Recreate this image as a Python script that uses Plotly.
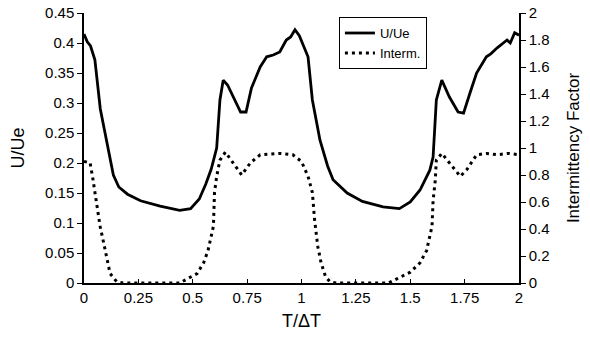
import plotly.graph_objects as go

# U/Ue (left axis)
t_u = [0.00, 0.015, 0.03, 0.05, 0.075, 0.105, 0.135, 0.16, 0.20, 0.26, 0.35, 0.44, 0.49, 0.53, 0.56,
       0.585, 0.61, 0.625, 0.64, 0.66, 0.685, 0.72, 0.745, 0.77, 0.81, 0.84, 0.87, 0.90, 0.93,
       0.95, 0.97, 0.99, 1.03, 1.05, 1.085, 1.12, 1.145, 1.21, 1.28, 1.375, 1.45, 1.50, 1.545, 1.59,
       1.605, 1.62, 1.645, 1.68, 1.72, 1.745, 1.775, 1.805, 1.85, 1.87, 1.90, 1.945, 1.96, 1.98, 2.00]
u_ue = [0.415, 0.402, 0.395, 0.372, 0.29, 0.235, 0.18, 0.16, 0.148, 0.137, 0.128, 0.121, 0.124, 0.14, 0.165,
        0.19, 0.225, 0.305, 0.338, 0.33, 0.31, 0.285, 0.285, 0.325, 0.36, 0.377, 0.38, 0.385, 0.405,
        0.41, 0.422, 0.412, 0.377, 0.305, 0.238, 0.195, 0.172, 0.15, 0.136, 0.127, 0.124, 0.135, 0.155, 0.188,
        0.21, 0.305, 0.338, 0.31, 0.285, 0.283, 0.317, 0.35, 0.377, 0.382, 0.392, 0.405, 0.40, 0.417, 0.413]

# intermittency factor (right axis)
t_i = [0.00, 0.028, 0.04, 0.06, 0.074, 0.09, 0.105, 0.12, 0.15, 0.18, 0.44, 0.49, 0.52, 0.55,
       0.57, 0.595, 0.60, 0.61, 0.625, 0.65, 0.685, 0.725, 0.765, 0.81, 0.90, 0.96, 1.00, 1.03,
       1.05, 1.06, 1.075, 1.09, 1.11, 1.13, 1.16, 1.40, 1.45, 1.50, 1.545, 1.575, 1.60, 1.605,
       1.615, 1.62, 1.645, 1.68, 1.73, 1.76, 1.805, 1.85, 1.90, 1.95, 2.00]
interm = [0.90, 0.89, 0.78, 0.56, 0.42, 0.30, 0.17, 0.07, 0.01, 0.0, 0.0, 0.04, 0.07, 0.15,
          0.24, 0.42, 0.67, 0.79, 0.91, 0.97, 0.89, 0.80, 0.89, 0.95, 0.96, 0.95, 0.90, 0.79,
          0.67, 0.47, 0.27, 0.15, 0.05, 0.01, 0.0, 0.0, 0.04, 0.08, 0.15, 0.24, 0.42, 0.61,
          0.76, 0.91, 0.96, 0.89, 0.79, 0.84, 0.95, 0.96, 0.95, 0.96, 0.95]

x_ticks = [0, 0.25, 0.5, 0.75, 1, 1.25, 1.5, 1.75, 2]
x_labels = ["0", "0.25", "0.5", "0.75", "1", "1.25", "1.5", "1.75", "2"]
y_ticks = [0, 0.05, 0.1, 0.15, 0.2, 0.25, 0.3, 0.35, 0.4, 0.45]
y_labels = ["0", "0.05", "0.1", "0.15", "0.2", "0.25", "0.3", "0.35", "0.4", "0.45"]
y2_ticks = [0, 0.2, 0.4, 0.6, 0.8, 1, 1.2, 1.4, 1.6, 1.8, 2]
y2_labels = ["0", "0.2", "0.4", "0.6", "0.8", "1", "1.2", "1.4", "1.6", "1.8", "2"]

fnt = "Liberation Sans, Arial, sans-serif"

fig = go.Figure()
fig.add_trace(go.Scatter(x=t_u, y=u_ue, mode="lines", name="U/Ue",
                         line=dict(color="black", width=2.8)))
fig.add_trace(go.Scatter(x=t_i, y=interm, mode="lines", name="Interm.", yaxis="y2",
                         line=dict(color="black", width=3, dash="3px,4px")))

axis_common = dict(showgrid=False, zeroline=False, showline=True, linecolor="black",
                   linewidth=1.5, tickcolor="black", tickfont=dict(size=15, color="black"),
                   title_font=dict(size=18, color="black"), automargin=False)

fig.update_layout(
    width=590, height=343,
    margin=dict(l=84, r=71, t=13, b=60),
    paper_bgcolor="white", plot_bgcolor="white",
    font=dict(family=fnt, color="black"),
    xaxis=dict(axis_common, range=[0, 2], tickvals=x_ticks, ticktext=x_labels,
               ticks="inside", ticklen=4, title=dict(text="T/ΔT", standoff=10)),
    yaxis=dict(axis_common, range=[0, 0.45], tickvals=y_ticks, ticktext=y_labels,
               ticks="outside", ticklen=5, title=dict(text="U/Ue", standoff=16)),
    yaxis2=dict(axis_common, range=[0, 2], tickvals=y2_ticks, ticktext=y2_labels,
                overlaying="y", side="right", ticks="outside", ticklen=5,
                title=dict(text="Intermittency Factor", standoff=18, font=dict(size=17))),
    legend=dict(x=0.586, y=0.985, xanchor="left", yanchor="top",
                bordercolor="black", borderwidth=1, bgcolor="white",
                font=dict(size=13, color="black"), tracegroupgap=0,
                itemwidth=30),
    showlegend=True,
)

# drop the default page margin so the figure sits at the window origin
fig.write_html("out.html", config={"displayModeBar": False},
               post_script="document.body.style.margin='0';")
